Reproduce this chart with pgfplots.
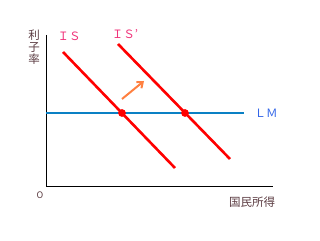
\documentclass[border=0pt]{standalone}
\usepackage{pgfplots}
\pgfplotsset{compat=1.18}
\usepackage{fontspec}
\newfontfamily\jp{Noto Sans CJK JP}
\usetikzlibrary{arrows.meta}
\definecolor{isred}{HTML}{FF0000}
\definecolor{lmblue}{HTML}{0A80C4}
\definecolor{pinklab}{HTML}{F0337A}
\definecolor{lmlab}{HTML}{3366E8}
\definecolor{txt}{HTML}{5A3A40}
\definecolor{arr}{HTML}{FF8040}
\begin{document}
\begin{tikzpicture}
\begin{axis}[scale only axis, width=320pt, height=240pt,
  xmin=0, xmax=320, ymin=0, ymax=240, hide axis, clip=false]
\draw[draw=none] (rel axis cs:0,0) rectangle (rel axis cs:1,1);
% axes
\addplot[black, line width=1pt] coordinates {(46,205) (46,53) (273,53)};
% LM
\addplot[lmblue, line width=2.9pt] coordinates {(46,127) (244,127)};
% IS
\addplot[isred, line width=2.6pt] coordinates {(63,188) (175,72)};
% IS'
\addplot[isred, line width=2.6pt] coordinates {(118,196) (230,81)};
% intersections
\addplot[only marks, mark=*, mark size=3.6pt, isred] coordinates {(122,127) (185,127)};
% arrow
\addplot[arr, line width=2pt, -{Straight Barb[length=5pt,width=8pt]}] coordinates {(122,141) (144,159)};
\node[text=pinklab, font=\jp\fontsize{11.5}{11.5}\selectfont] at (axis cs:69,204) {ＩＳ};
\node[text=pinklab, font=\jp\fontsize{11.5}{11.5}\selectfont] at (axis cs:125,206) {ＩＳ’};
\node[text=lmlab, font=\jp\fontsize{11.5}{11.5}\selectfont] at (axis cs:266,127) {ＬＭ};
\node[text=txt, font=\jp\fontsize{11.5}{12}\selectfont, align=center] at (axis cs:34,193) {利\\子\\率};
\node[text=txt, font=\jp\fontsize{9}{9}\selectfont] at (axis cs:40,45) {O};
\node[text=txt, font=\jp\fontsize{11.5}{11.5}\selectfont] at (axis cs:252,38) {国民所得};
\end{axis}
\end{tikzpicture}
\end{document}
